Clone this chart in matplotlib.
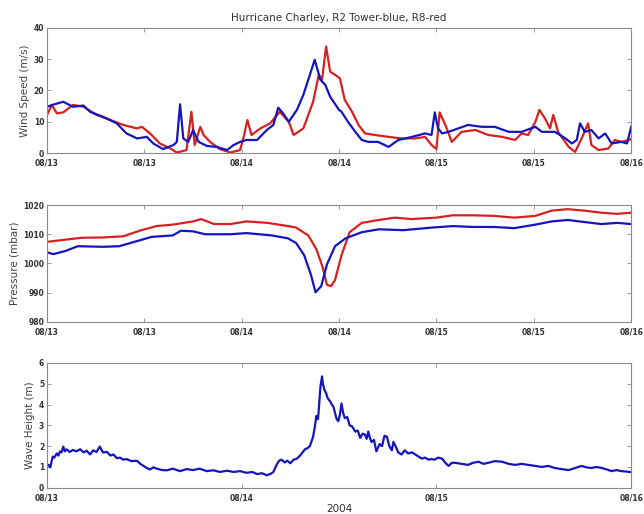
import matplotlib
matplotlib.use("Agg")
import matplotlib.pyplot as plt

# hours since 08/13 00:00
wind_blue_t = [0, 0.8, 2.0, 3.2, 4.5, 5.3, 6.9, 8.6, 9.8, 11.1, 12.3, 13.1, 14.3, 15.6, 16.0, 16.4,
               16.8, 17.4, 18.0, 18.7, 19.7, 20.9, 22.2, 23.0, 23.8, 24.6, 25.9, 27.1, 27.9, 28.5,
               29.1, 29.8, 30.8, 31.6, 32.4, 33.0, 33.7, 34.3, 34.9, 36.0, 36.3, 37.1, 38.0, 38.8,
               39.6, 40.8, 42.1, 43.3, 45.0, 46.6, 47.4, 47.8, 48.2, 48.7, 49.5, 50.7, 51.9, 53.6,
               55.2, 56.9, 58.5, 60.2, 61.0, 62.6, 63.9, 64.7, 65.3, 65.7, 66.3, 67.1, 68.0, 68.8,
               69.6, 70.8, 71.5, 72.0]
wind_blue = [14.8, 15.5, 16.4, 14.8, 15.2, 13.2, 11.6, 9.5, 6.3, 4.7, 5.2, 3.1, 1.3, 2.6, 3.6, 15.6,
             4.7, 3.6, 7.3, 3.6, 2.3, 2.0, 1.0, 2.6, 3.6, 4.2, 4.2, 7.4, 9.0, 14.5,
             12.7, 10.0, 13.8, 18.6, 25.0, 29.8, 23.4, 21.8, 18.0, 13.8, 13.2, 10.0, 6.8, 4.2,
             3.6, 3.6, 2.0, 4.2, 5.2, 6.3, 5.8, 13.0, 7.9, 6.3, 6.8, 7.9, 9.0, 8.4,
             8.4, 6.8, 6.8, 8.4, 6.8, 6.8, 4.7, 3.1, 4.2, 9.5, 6.8, 7.4, 4.7, 6.3,
             3.1, 3.6, 3.1, 8.4]

wind_red_t = [0, 0.6, 1.2, 2.0, 3.2, 4.5, 6.1, 7.8, 9.4, 11.1, 11.7, 12.7, 13.9, 15.2, 16.0, 17.2,
              17.8, 18.2, 18.9, 19.3, 20.1, 21.3, 22.6, 23.8, 24.2, 24.7, 25.2, 26.3, 27.5, 28.7,
              29.8, 30.4, 31.6, 32.8, 33.5, 33.9, 34.4, 34.9, 35.5, 36.1, 36.7, 37.6, 38.4, 39.2,
              40.4, 42.1, 43.7, 45.4, 46.6, 47.4, 48.0, 48.4, 49.1, 49.9, 51.1, 52.8, 54.4, 56.1,
              57.7, 58.5, 59.3, 60.2, 60.7, 61.4, 62.0, 62.4, 63.0, 64.3, 65.1, 65.9, 66.7, 67.1,
              68.0, 69.2, 70.0, 70.8, 71.7, 72.0]
wind_red = [12.2, 15.4, 12.7, 13.0, 15.4, 14.8, 12.2, 10.6, 9.0, 7.9, 8.4, 6.3, 3.1, 1.5, 0.2, 1.0,
            13.2, 2.6, 8.4, 5.8, 3.6, 1.3, 0.2, 1.0, 4.7, 10.6, 5.8, 7.9, 9.5, 13.2,
            10.0, 5.8, 7.9, 16.4, 25.0, 23.4, 34.0, 26.0, 25.0, 23.9, 17.0, 13.2, 9.0, 6.3,
            5.8, 5.2, 4.7, 4.7, 5.2, 2.6, 1.3, 13.0, 9.0, 3.6, 6.8, 7.4, 5.8, 5.2,
            4.2, 6.3, 5.8, 10.0, 13.8, 11.0, 7.9, 12.2, 6.8, 2.0, 0.4, 4.7, 9.5, 2.6,
            1.0, 1.5, 4.2, 3.6, 4.2, 4.5]

pres_red_t = [0, 1.8, 4.3, 6.9, 9.4, 11.4, 13.5, 15.5, 18.0, 19.0, 20.6, 22.6, 24.6, 27.2, 29.7,
              30.7, 32.2, 33.2, 34.0, 34.5, 35.0, 35.5, 36.3, 37.3, 38.8, 40.9, 42.9, 44.9, 48.0,
              50.0, 52.5, 55.1, 57.6, 60.2, 62.2, 64.2, 66.2, 68.3, 70.3, 72.0]
pres_red = [1007.4, 1008.0, 1008.8, 1008.9, 1009.3, 1011.2, 1012.8, 1013.3, 1014.4, 1015.2,
            1013.5, 1013.5, 1014.4, 1013.9, 1012.8, 1012.3, 1009.6, 1004.9, 998.5, 992.7,
            992.2, 994.3, 1002.8, 1010.7, 1013.9, 1014.9, 1015.7, 1015.2, 1015.7, 1016.5,
            1016.5, 1016.3, 1015.7, 1016.3, 1018.1, 1018.6, 1018.1, 1017.4, 1017.0, 1017.4]

pres_blue_t = [0, 0.8, 2.3, 3.8, 6.9, 8.9, 10.9, 12.9, 15.5, 16.5, 18.0, 19.5, 22.6, 24.6, 27.7,
               29.7, 30.7, 31.7, 32.5, 33.1, 33.8, 34.5, 35.5, 36.8, 38.8, 40.9, 43.9, 47.5, 50.0,
               52.5, 55.1, 57.6, 60.2, 62.2, 64.2, 66.2, 68.3, 70.3, 72.0]
pres_blue = [1003.8, 1003.2, 1004.3, 1005.9, 1005.7, 1005.9, 1007.5, 1009.1, 1009.6, 1011.2,
             1011.0, 1010.0, 1010.0, 1010.4, 1009.6, 1008.6, 1007.0, 1002.8, 996.4, 990.1,
             992.2, 999.6, 1005.9, 1008.6, 1010.7, 1011.7, 1011.4, 1012.3, 1012.8, 1012.5,
             1012.5, 1012.1, 1013.3, 1014.4, 1014.9, 1014.2, 1013.5, 1013.9, 1013.5]

wave_t = [0, 0.2, 0.4, 0.7, 0.9, 1.2, 1.4, 1.6, 1.8, 2.0, 2.2, 2.4, 2.8, 3.2, 3.6, 4.1, 4.5,
          4.9, 5.3, 5.7, 6.1, 6.5, 6.9, 7.4, 7.8, 8.2, 8.6, 9.0, 9.4, 9.8, 10.4, 11.1, 11.5,
          11.9, 12.3, 12.7, 13.1, 13.5, 14.2, 14.8, 15.5, 16.4, 17.2, 18.0, 18.8, 19.7, 20.5,
          21.3, 22.2, 23.0, 23.8, 24.6, 25.3, 25.9, 26.5, 27.1, 27.6, 27.9, 28.3, 28.6, 28.9,
          29.3, 29.6, 30.0, 30.4, 30.8, 31.2, 31.5, 31.8, 32.1, 32.4, 32.8, 33.0, 33.2, 33.4,
          33.5, 33.7, 33.9, 34.0, 34.2, 34.4, 34.6, 34.9, 35.1, 35.3, 35.5, 35.7, 35.9, 36.1,
          36.3, 36.5, 36.7, 37.0, 37.3, 37.6, 38.0, 38.3, 38.6, 38.9, 39.2, 39.4, 39.6, 39.8,
          40.0, 40.3, 40.6, 41.0, 41.3, 41.6, 41.9, 42.2, 42.5, 42.7, 42.9, 43.3, 43.7, 44.1,
          44.5, 45.0, 45.4, 45.8, 46.2, 46.6, 47.0, 47.4, 47.8, 48.2, 48.7, 49.1, 49.5, 49.9,
          50.3, 51.1, 51.9, 52.5, 53.2, 53.8, 54.4, 55.2, 56.1, 56.9, 57.7, 58.5, 59.3, 60.2,
          61.0, 61.8, 62.6, 63.4, 64.3, 65.1, 65.9, 66.5, 67.1, 67.7, 68.4, 69.0, 69.6, 70.2,
          70.8, 71.4, 72.0]
wave = [1.05, 1.1, 0.98, 1.5, 1.45, 1.65, 1.55, 1.75, 1.7, 1.98, 1.75, 1.85, 1.72, 1.82, 1.75,
        1.85, 1.7, 1.78, 1.6, 1.8, 1.72, 1.98, 1.7, 1.72, 1.55, 1.6, 1.42, 1.45, 1.35, 1.38,
        1.28, 1.3, 1.15, 1.05, 0.95, 0.88, 0.98, 0.92, 0.85, 0.84, 0.92, 0.8, 0.9, 0.85, 0.92,
        0.8, 0.84, 0.76, 0.82, 0.76, 0.8, 0.72, 0.76, 0.66, 0.7, 0.6, 0.68, 0.76, 1.1, 1.3,
        1.35, 1.22, 1.3, 1.18, 1.35, 1.4, 1.55, 1.7, 1.85, 1.9, 2.0, 2.45, 2.9, 3.45, 3.3,
        3.75, 4.85, 5.35, 5.0, 4.7, 4.55, 4.3, 4.15, 4.0, 3.9, 3.6, 3.3, 3.2, 3.5,
        4.05, 3.6, 3.35, 3.4, 3.0, 2.95, 2.7, 2.75, 2.4, 2.6, 2.55, 2.35, 2.7, 2.4,
        2.2, 2.3, 1.75, 2.1, 2.0, 2.5, 2.45, 2.0, 1.8, 2.2, 2.05, 1.7, 1.6, 1.8,
        1.65, 1.7, 1.6, 1.5, 1.4, 1.45, 1.35, 1.38, 1.35, 1.45, 1.4, 1.2, 1.05, 1.2,
        1.2, 1.15, 1.1, 1.2, 1.25, 1.15, 1.2, 1.28, 1.25, 1.15, 1.1, 1.15, 1.1, 1.05,
        1.0, 1.05, 0.95, 0.9, 0.85, 0.95, 1.05, 0.98, 0.95, 1.0, 0.95, 0.88, 0.8, 0.85,
        0.8, 0.78, 0.75]

half_day_labels = ["08/13", "08/13", "08/14", "08/14", "08/15", "08/15", "08/16"]
day_labels = ["08/13", "08/14", "08/15", "08/16"]

BLUE = "#1515c0"
RED = "#d82020"
EDGE = "#8a8a8a"
TXT = "#333333"

fig = plt.figure(figsize=(6.44, 5.14), dpi=100)
ax1 = fig.add_axes([0.073, 0.702, 0.907, 0.244])
ax2 = fig.add_axes([0.073, 0.374, 0.907, 0.227])
ax3 = fig.add_axes([0.073, 0.051, 0.907, 0.243])


def style(ax, ylabel):
    ax.set_xlim(0, 72)
    for s in ax.spines.values():
        s.set_color(EDGE)
        s.set_linewidth(0.8)
    ax.tick_params(direction="in", top=True, right=True, length=3, width=0.6,
                   color=EDGE, labelsize=5.5, labelcolor=TXT)
    ax.tick_params(axis="x", pad=4)
    ax.tick_params(axis="y", pad=2)
    for lab in ax.get_xticklabels() + ax.get_yticklabels():
        lab.set_fontweight("bold")
    ax.set_ylabel(ylabel, fontsize=7.5, color="#444444", labelpad=3)


ax1.plot(wind_red_t, wind_red, color=RED, lw=1.6)
ax1.plot(wind_blue_t, wind_blue, color=BLUE, lw=1.6)
ax1.set_ylim(0, 40)
ax1.set_yticks([0, 10, 20, 30, 40])
ax1.set_xticks(range(0, 73, 12))
ax1.set_xticklabels(half_day_labels)
style(ax1, "Wind Speed (m/s)")
ax1.set_title("Hurricane Charley, R2 Tower-blue, R8-red", fontsize=7.5, color="#333333", pad=5)

ax2.plot(pres_red_t, pres_red, color=RED, lw=1.6)
ax2.plot(pres_blue_t, pres_blue, color=BLUE, lw=1.6)
ax2.set_ylim(980, 1020)
ax2.set_yticks([980, 990, 1000, 1010, 1020])
ax2.set_xticks(range(0, 73, 12))
ax2.set_xticklabels(half_day_labels)
style(ax2, "Pressure (mbar)")

ax3.plot(wave_t, wave, color=BLUE, lw=1.6)
ax3.set_ylim(0, 6)
ax3.set_yticks(range(0, 7))
ax3.set_xticks(range(0, 73, 24))
ax3.set_xticklabels(day_labels)
style(ax3, "Wave Height (m)")
ax3.set_xlabel("2004", fontsize=7.5, color="#333333", labelpad=1)

fig.savefig("out.png", dpi=100)
